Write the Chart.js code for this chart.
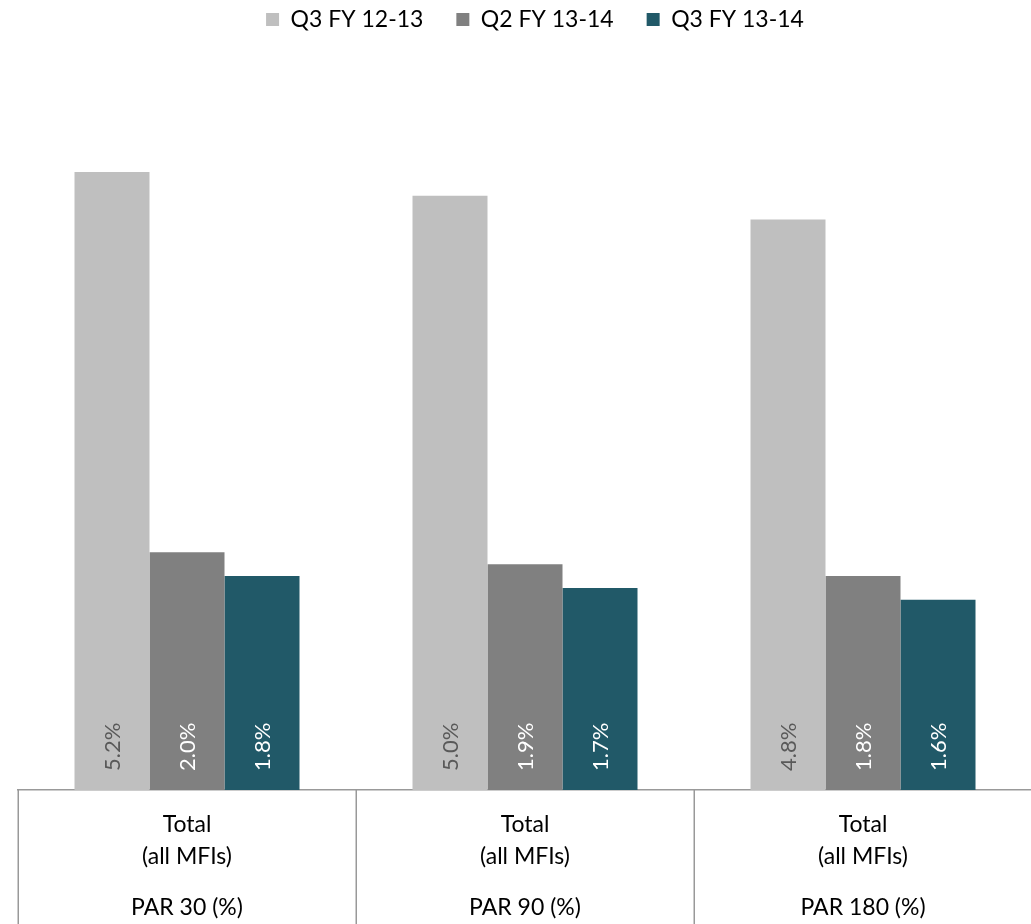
<!DOCTYPE html>
<html>
<head>
<meta charset="utf-8">
<script src="https://cdn.jsdelivr.net/npm/chart.js@4/dist/chart.umd.min.js"></script>
<style>
  html, body { margin: 0; padding: 0; background: #ffffff; overflow: hidden; }
  #wrap { position: relative; width: 1034px; height: 924px; }
</style>
</head>
<body>
<div id="wrap"><canvas id="c"></canvas></div>
<script>
// Portfolio-at-risk ratios, all MFIs
const groupTop = [["Total", "(all MFIs)"], ["Total", "(all MFIs)"], ["Total", "(all MFIs)"]];
const groupNames = ["PAR 30 (%)", "PAR 90 (%)", "PAR 180 (%)"];
const seriesNames = ["Q3 FY 12-13", "Q2 FY 13-14", "Q3 FY 13-14"];
const q3fy1213 = [5.2, 5.0, 4.8];
const q2fy1314 = [2.0, 1.9, 1.8];
const q3fy1314 = [1.8, 1.7, 1.6];

const FONT = "Lato, 'Open Sans', sans-serif";
const colors = ["#BFBFBF", "#808080", "#215968"];
const valueColors = ["#595959", "#FFFFFF", "#FFFFFF"];
const lineColor = "#999999";

// Vertical value labels written inside the foot of each bar
const barValueLabels = {
  id: "barValueLabels",
  afterDatasetsDraw(chart) {
    const ctx = chart.ctx;
    chart.data.datasets.forEach((ds, di) => {
      const meta = chart.getDatasetMeta(di);
      meta.data.forEach((bar, i) => {
        const v = ds.data[i];
        ctx.save();
        ctx.translate(bar.x + 1, bar.base - 19);
        ctx.rotate(-Math.PI / 2);
        ctx.font = "400 22px " + FONT;
        ctx.fillStyle = valueColors[di];
        ctx.textAlign = "left";
        ctx.textBaseline = "middle";
        ctx.fillText(v.toFixed(1) + "%", 0, 0);
        ctx.restore();
      });
    });
  }
};

// Category boxes: separators between groups, running under both label rows
const categoryBoxes = {
  id: "categoryBoxes",
  afterDraw(chart) {
    const xs = chart.scales.x;
    const n = xs.ticks.length;
    const step = n > 1 ? xs.getPixelForTick(1) - xs.getPixelForTick(0) : xs.width;
    const ctx = chart.ctx;
    ctx.save();
    ctx.strokeStyle = lineColor;
    ctx.lineWidth = 1.5;
    ctx.beginPath();
    for (let i = 0; i <= n; i++) {
      const px = Math.round(xs.getPixelForTick(0) - step / 2 + i * step) + 0.25;
      ctx.moveTo(px, chart.chartArea.bottom);
      ctx.lineTo(px, chart.height);
    }
    ctx.stroke();
    ctx.restore();
  }
};

// Legend sits in a fixed band above the plot, nudged slightly right
const legendBand = {
  id: "legendBand",
  beforeInit(chart) {
    const fit = chart.legend.fit;
    chart.legend.fit = function () {
      fit.call(this);
      this.height = 102;
    };
  },
  afterLayout(chart) {
    chart.legend.left += 10;
    chart.legend.right += 10;
  }
};

new Chart(document.getElementById("c"), {
  type: "bar",
  data: {
    labels: groupTop,
    datasets: [
      { label: seriesNames[0], data: q3fy1213, backgroundColor: colors[0], borderWidth: 0 },
      { label: seriesNames[1], data: q2fy1314, backgroundColor: colors[1], borderWidth: 0 },
      { label: seriesNames[2], data: q3fy1314, backgroundColor: colors[2], borderWidth: 0 }
    ]
  },
  options: {
    responsive: true,
    maintainAspectRatio: false,
    animation: false,
    layout: { padding: { left: 18, right: 2, top: -25, bottom: 0 } },
    datasets: { bar: { barPercentage: 1.0, categoryPercentage: 0.6657 } },
    plugins: {
      legend: {
        position: "top",
        align: "center",
        labels: {
          boxWidth: 13,
          boxHeight: 13,
          padding: 33,
          color: "#000000",
          font: { family: FONT, size: 23 }
        }
      },
      tooltip: { enabled: false }
    },
    scales: {
      y: {
        display: false,
        min: 0,
        max: 6
      },
      x: {
        position: "bottom",
        weight: 0,
        grid: { display: false, drawTicks: false },
        border: { display: true, color: lineColor, width: 1.5 },
        ticks: {
          padding: 19,
          color: "#000000",
          maxRotation: 0,
          autoSkip: false,
          font: { family: FONT, size: 23, lineHeight: "32px" }
        }
      },
      x2: {
        type: "category",
        position: "bottom",
        weight: 1,
        labels: groupNames,
        offset: true,
        grid: { display: false, drawTicks: false },
        border: { display: false },
        ticks: {
          padding: 0,
          color: "#000000",
          maxRotation: 0,
          autoSkip: false,
          font: { family: FONT, size: 23, lineHeight: "32px" }
        }
      }
    }
  },
  plugins: [barValueLabels, categoryBoxes, legendBand]
});
</script>
</body>
</html>
